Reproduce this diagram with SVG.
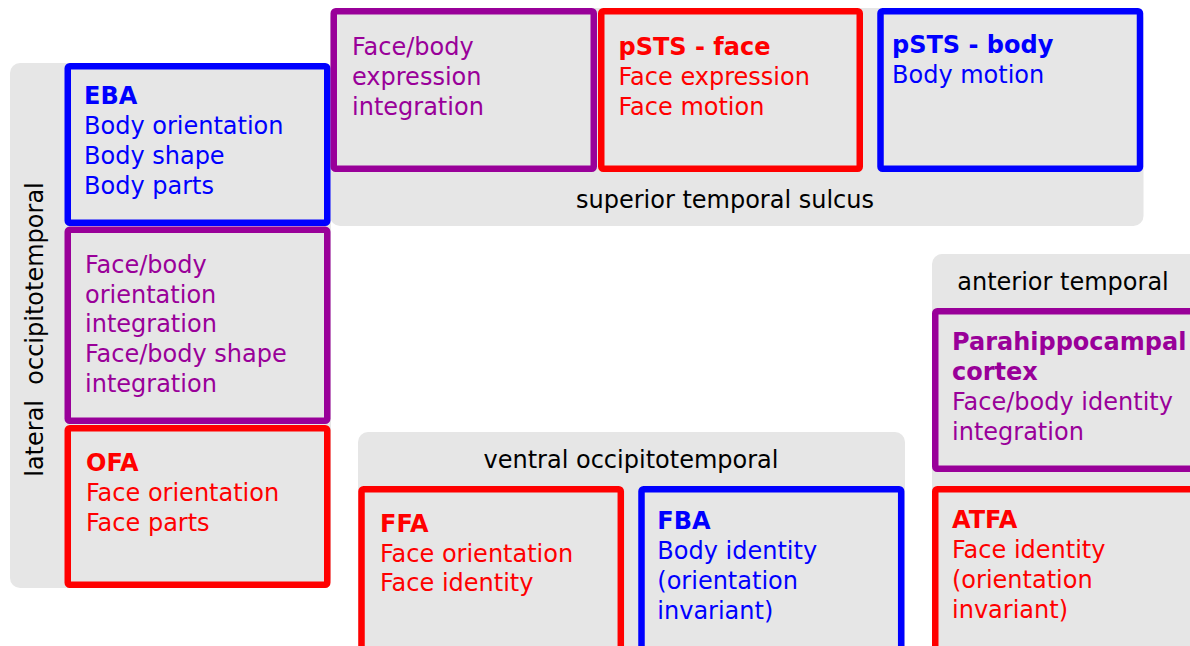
<svg xmlns="http://www.w3.org/2000/svg" width="1190" height="646" viewBox="0 0 1190 646">
<style>
.panel{fill:#e6e6e6;stroke:none}
.box{fill:#e6e6e6;stroke-width:6.5}
.b{stroke:#0000ff}.r{stroke:#ff0000}.p{stroke:#990099}
text{font-family:"DejaVu Sans","Liberation Sans",sans-serif;font-size:24px}
.tb{fill:#0000ff}.tr{fill:#ff0000}.tp{fill:#990099}.tk{fill:#000000}
.bold{font-weight:bold}
</style>
<rect width="1190" height="646" fill="#ffffff"/>
<g id="panel-lateral">
<rect class="panel" x="10" y="63" width="321" height="525" rx="10"/>
<text class="tk" transform="translate(42.5,329.5) rotate(-90)" text-anchor="middle" xml:space="preserve" style="white-space:pre">lateral  occipitotemporal</text>
</g>
<g id="panel-sts">
<rect class="panel" x="330" y="8" width="813.5" height="218" rx="10"/>
<text class="tk" x="725" y="208" text-anchor="middle">superior temporal sulcus</text>
</g>
<g id="panel-ventral">
<rect class="panel" x="358" y="432" width="547" height="230" rx="10"/>
<text class="tk" x="631" y="468" text-anchor="middle">ventral occipitotemporal</text>
</g>
<g id="panel-anterior">
<rect class="panel" x="932" y="254" width="270" height="410" rx="10"/>
<text class="tk" x="1063" y="290" text-anchor="middle">anterior temporal</text>
</g>
<g id="EBA">
<rect class="box b" x="67.75" y="66.25" width="259.5" height="156.5" rx="2"/>
<text class="tb" x="84"><tspan class="bold" x="84" y="104">EBA</tspan><tspan x="84" y="134">Body orientation</tspan><tspan x="84" y="164">Body shape</tspan><tspan x="84" y="194">Body parts</tspan></text>
</g>
<g id="lateral-integration">
<rect class="box p" x="67.75" y="229.75" width="259.5" height="191" rx="2"/>
<text class="tp"><tspan x="85" y="273">Face/body</tspan><tspan x="85" y="302.5">orientation</tspan><tspan x="85" y="332">integration</tspan><tspan x="85" y="362">Face/body shape</tspan><tspan x="85" y="392">integration</tspan></text>
</g>
<g id="OFA">
<rect class="box r" x="67.75" y="428.25" width="259.5" height="156.5" rx="2"/>
<text class="tr"><tspan class="bold" x="86" y="471">OFA</tspan><tspan x="86" y="501">Face orientation</tspan><tspan x="86" y="531">Face parts</tspan></text>
</g>
<g id="sts-integration">
<rect class="box p" x="333.75" y="11.25" width="260" height="157.5" rx="2"/>
<text class="tp"><tspan x="352" y="55">Face/body</tspan><tspan x="352" y="85">expression</tspan><tspan x="352" y="115">integration</tspan></text>
</g>
<g id="pSTS-face">
<rect class="box r" x="601.25" y="11.25" width="258.5" height="157.5" rx="2"/>
<text class="tr"><tspan class="bold" x="618.5" y="54.5">pSTS - face</tspan><tspan x="618.5" y="84.5">Face expression</tspan><tspan x="618.5" y="114.5">Face motion</tspan></text>
</g>
<g id="pSTS-body">
<rect class="box b" x="880.5" y="11.25" width="259.5" height="157.5" rx="2"/>
<text class="tb"><tspan class="bold" x="892" y="53.3">pSTS - body</tspan><tspan x="892" y="83.3">Body motion</tspan></text>
</g>
<g id="FFA">
<rect class="box r" x="361.5" y="489.25" width="259.3" height="170" rx="2"/>
<text class="tr"><tspan class="bold" x="380" y="531.7">FFA</tspan><tspan x="380" y="561.7">Face orientation</tspan><tspan x="380" y="591">Face identity</tspan></text>
</g>
<g id="FBA">
<rect class="box b" x="641.5" y="489.25" width="259.7" height="170" rx="2"/>
<text class="tb"><tspan class="bold" x="657.3" y="528.5">FBA</tspan><tspan x="657.3" y="558.5">Body identity</tspan><tspan x="657.3" y="588.5">(orientation</tspan><tspan x="657.3" y="618.5">invariant)</tspan></text>
</g>
<g id="parahippocampal">
<rect class="box p" x="935.25" y="311.25" width="270" height="157.5" rx="2"/>
<text class="tp"><tspan class="bold" x="952" y="350">Parahippocampal</tspan><tspan class="bold" x="952" y="380">cortex</tspan><tspan x="952" y="410">Face/body identity</tspan><tspan x="952" y="440">integration</tspan></text>
</g>
<g id="ATFA">
<rect class="box r" x="935.25" y="489.25" width="270" height="170" rx="2"/>
<text class="tr"><tspan class="bold" x="952" y="528.3">ATFA</tspan><tspan x="952" y="558.3">Face identity</tspan><tspan x="952" y="588.3">(orientation</tspan><tspan x="952" y="618.3">invariant)</tspan></text>
</g>
<g id="connectors"></g>
</svg>
